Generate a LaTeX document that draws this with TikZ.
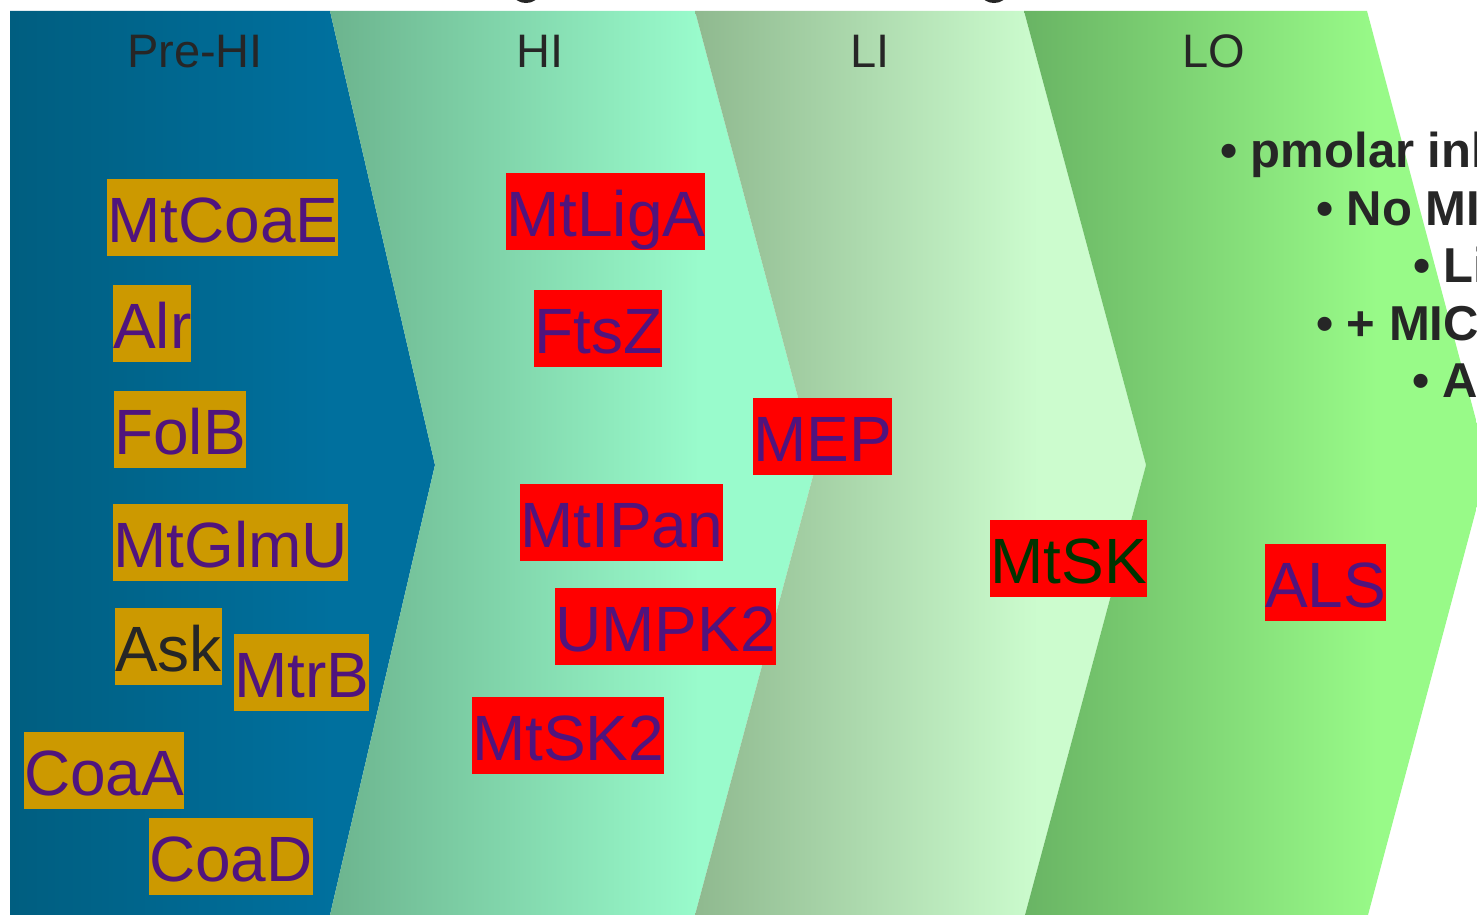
\documentclass[tikz,border=0pt]{standalone}
\usepackage{fontspec}
\setmainfont{Liberation Sans}
\definecolor{bA}{RGB}{0,94,128}
\definecolor{bB}{RGB}{0,112,158}
\definecolor{gA}{RGB}{108,180,142}
\definecolor{gB}{RGB}{153,251,204}
\definecolor{lA}{RGB}{143,185,143}
\definecolor{lB}{RGB}{204,252,206}
\definecolor{oA}{RGB}{105,180,100}
\definecolor{oB}{RGB}{152,250,136}
\definecolor{gold}{RGB}{204,153,0}
\definecolor{purp}{RGB}{80,20,125}
\definecolor{ink}{RGB}{38,38,38}
\definecolor{dgreen}{RGB}{0,51,0}
\pgfdeclarehorizontalshading{shblue}{100bp}{color(0bp)=(bA); color(25bp)=(bA); color(63bp)=(bB); color(100bp)=(bB)}
\pgfdeclarehorizontalshading{shhi}{100bp}{color(0bp)=(gA); color(25bp)=(gA); color(63bp)=(gB); color(100bp)=(gB)}
\pgfdeclarehorizontalshading{shli}{100bp}{color(0bp)=(lA); color(25bp)=(lA); color(63bp)=(lB); color(100bp)=(lB)}
\pgfdeclarehorizontalshading{shlo}{100bp}{color(0bp)=(oA); color(25bp)=(oA); color(63bp)=(oB); color(100bp)=(oB)}
\tikzset{
  lbl/.style={anchor=north west, inner xsep=0pt, inner ysep=0pt,
    text height=63pt, text depth=14pt, font=\fontsize{64}{70}\selectfont},
  orangebox/.style={lbl, fill=gold, text=purp},
  redbox/.style={lbl, fill=red, text=purp},
  head/.style={anchor=base, inner sep=0pt, text=ink, font=\fontsize{47}{52}\selectfont},
  bul/.style={anchor=base west, inner sep=0pt, text=ink, font=\fontsize{49}{55}\selectfont\bfseries}
}
\begin{document}
\begin{tikzpicture}[x=1pt,y=-1pt]
\clip (0,0) rectangle (1477,915);
\fill[white] (0,0) rectangle (1477,915);
% cut-off title glyph fragments
\draw[ink, line width=4pt] (526,-7) ellipse (11 and 8);
\draw[ink, line width=4pt] (994,-7) ellipse (11 and 8);
% chevrons
\shade[shading=shblue] (10,11) -- (330,11) -- (435,465) -- (330,915) -- (10,915) -- cycle;
\shade[shading=shhi] (330,11) -- (695,11) -- (816,465) -- (695,915) -- (330,915) -- (435,465) -- cycle;
\shade[shading=shli] (695,11) -- (1024,11) -- (1146,465) -- (1025,915) -- (695,915) -- (816,465) -- cycle;
\shade[shading=shlo] (1024,11) -- (1367,11) -- (1488,465) -- (1368,915) -- (1025,915) -- (1146,465) -- cycle;
% headers
\node[head] (hpre) at (195,68) {Pre-HI};
\node[head] (hhi) at (540,68) {HI};
\node[head] (hli) at (870,68) {LI};
\node[head] (hlo) at (1214,68) {LO};
% Pre-HI labels
\node[orangebox] (mtcoae) at (107,179) {MtCoaE};
\node[orangebox] (alr) at (113,285) {Alr};
\node[orangebox] (folb) at (114,391) {FolB};
\node[orangebox] (mtglmu) at (113,504) {MtGlmU};
\node[orangebox, text=ink] (ask) at (115,608) {Ask};
\node[orangebox] (mtrb) at (234,634) {MtrB};
\node[orangebox] (coaa) at (24,732) {CoaA};
\node[orangebox] (coad) at (149,818) {CoaD};
% HI labels
\node[redbox] (mtliga) at (506,173) {MtLigA};
\node[redbox] (ftsz) at (534,290) {FtsZ};
\node[redbox] (mtipan) at (520,484) {MtIPan};
\node[redbox] (umpk) at (555,588) {UMPK2};
\node[redbox] (mtsktwo) at (472,697) {MtSK2};
% LI / LO labels
\node[redbox] (mep) at (753,398) {MEP};
\node[redbox, text=dgreen] (mtsk) at (990,520) {MtSK};
\node[redbox] (als) at (1265,544) {ALS};
% bullets
\node[bul] (b1) at (1220,167) {\textbullet{} pmolar inhibition};
\node[bul] (b2) at (1316,225) {\textbullet{} No MIC};
\node[bul] (b3) at (1413,282) {\textbullet{} Li};
\node[bul] (b4) at (1316,340) {\textbullet{} + MIC};
\node[bul] (b5) at (1412,397) {\textbullet{} Al};
\end{tikzpicture}
\end{document}
